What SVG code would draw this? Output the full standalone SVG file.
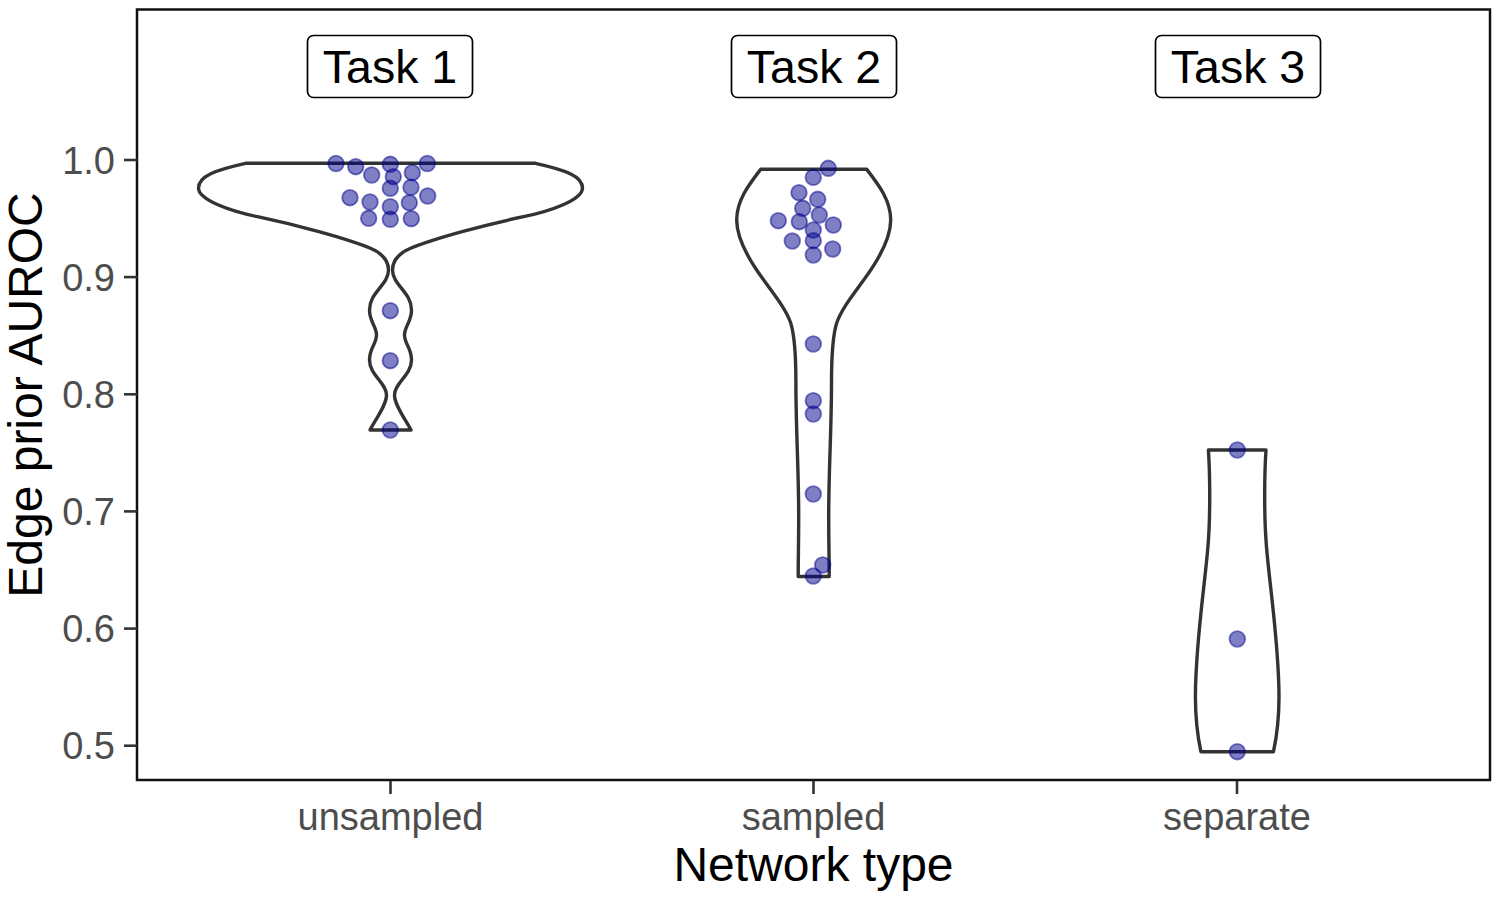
<svg xmlns="http://www.w3.org/2000/svg" width="1500" height="900" viewBox="0 0 1500 900">
<style>
  .violin { fill: #ffffff; stroke: #333333; stroke-width: 3.4; stroke-linejoin: round; }
  .pt { fill: #00008b; fill-opacity: 0.5; stroke: #00008b; stroke-opacity: 0.5; stroke-width: 1.8; }
  .tick { stroke: #333333; stroke-width: 2.6; }
  .ylab { font-family: "Liberation Sans", Arial, sans-serif; font-size: 38px; fill: #4d4d4d; text-anchor: end; }
  .xlab { font-family: "Liberation Sans", Arial, sans-serif; font-size: 38px; fill: #4d4d4d; text-anchor: middle; }
  .title { font-family: "Liberation Sans", Arial, sans-serif; font-size: 48px; fill: #000000; text-anchor: middle; }
  .tbox { fill: #ffffff; stroke: #000000; stroke-width: 1.7; }
  .ttext { font-family: "Liberation Sans", Arial, sans-serif; font-size: 46.5px; fill: #000000; text-anchor: middle; }
</style>
<rect x="0" y="0" width="1500" height="900" fill="#ffffff"/>

<g id="violin-unsampled">
  <path class="violin" d="M245.5,163.3 L535.5,163.3 C565.5,170 582.5,176 582.5,188 C582.5,200 550.5,211 523.5,216.7 C485.5,224.7 435.5,238 410.5,248.3 C398.5,253.5 392.5,260 392.5,270 C392.5,285 411.5,292 411.5,310 C411.5,322 404.5,326 404.5,335 C404.5,344 411.5,348 411.5,360 C411.5,375 394.5,383 394.5,395 C394.5,405 404.5,418 411,430 L370,430 C376.5,418 386.5,405 386.5,395 C386.5,383 369.5,375 369.5,360 C369.5,348 376.5,344 376.5,335 C376.5,326 369.5,322 369.5,310 C369.5,292 388.5,285 388.5,270 C388.5,260 382.5,253.5 370.5,248.3 C345.5,238 295.5,224.7 257.5,216.7 C230.5,211 198.5,200 198.5,188 C198.5,176 215.5,170 245.5,163.3 Z"/>
  <g>
    <circle class="pt" cx="336" cy="163.5" r="7.8"/>
    <circle class="pt" cx="355.7" cy="166.7" r="7.8"/>
    <circle class="pt" cx="371.7" cy="175" r="7.8"/>
    <circle class="pt" cx="390.3" cy="164.3" r="7.8"/>
    <circle class="pt" cx="393.3" cy="176.7" r="7.8"/>
    <circle class="pt" cx="412.3" cy="172.7" r="7.8"/>
    <circle class="pt" cx="427.3" cy="163.5" r="7.8"/>
    <circle class="pt" cx="390.3" cy="188.3" r="7.8"/>
    <circle class="pt" cx="411" cy="187.3" r="7.8"/>
    <circle class="pt" cx="427.7" cy="196" r="7.8"/>
    <circle class="pt" cx="350" cy="197.7" r="7.8"/>
    <circle class="pt" cx="370" cy="202" r="7.8"/>
    <circle class="pt" cx="390.3" cy="206.7" r="7.8"/>
    <circle class="pt" cx="409.3" cy="202.7" r="7.8"/>
    <circle class="pt" cx="368.7" cy="218.3" r="7.8"/>
    <circle class="pt" cx="390.3" cy="219.3" r="7.8"/>
    <circle class="pt" cx="411.3" cy="218.7" r="7.8"/>
    <circle class="pt" cx="390.3" cy="310.7" r="7.8"/>
    <circle class="pt" cx="390.3" cy="360.7" r="7.8"/>
    <circle class="pt" cx="390.3" cy="430" r="7.8"/>
  </g>
</g>

<g id="violin-sampled">
  <path class="violin" d="M760.7,169.3 L866.7,169.3 C878,184 890.7,200 890.7,220 C890.7,240 877,262 863.7,280 C852,296 841,310 836.7,323 C832.5,336 831.5,355 831.5,383 C831.5,430 828.7,470 828.7,516 C828.7,540 829.2,560 829.2,576.5 L798.2,576.5 C798.2,560 798.7,540 798.7,516 C798.7,470 795.9,430 795.9,383 C795.9,355 794.9,336 790.7,323 C786.4,310 775.4,296 763.7,280 C750.4,262 736.7,240 736.7,220 C736.7,200 749.4,184 760.7,169.3 Z"/>
  <g>
    <circle class="pt" cx="828.3" cy="168.3" r="7.8"/>
    <circle class="pt" cx="813.3" cy="177.3" r="7.8"/>
    <circle class="pt" cx="799" cy="192.7" r="7.8"/>
    <circle class="pt" cx="817.7" cy="199.3" r="7.8"/>
    <circle class="pt" cx="802.7" cy="208.3" r="7.8"/>
    <circle class="pt" cx="819.3" cy="215" r="7.8"/>
    <circle class="pt" cx="778.3" cy="220.7" r="7.8"/>
    <circle class="pt" cx="799.3" cy="221.7" r="7.8"/>
    <circle class="pt" cx="833.3" cy="225" r="7.8"/>
    <circle class="pt" cx="813.3" cy="230" r="7.8"/>
    <circle class="pt" cx="792.3" cy="241" r="7.8"/>
    <circle class="pt" cx="813.3" cy="240.7" r="7.8"/>
    <circle class="pt" cx="832.7" cy="249" r="7.8"/>
    <circle class="pt" cx="813.3" cy="255" r="7.8"/>
    <circle class="pt" cx="813.3" cy="344" r="7.8"/>
    <circle class="pt" cx="813.3" cy="400.7" r="7.8"/>
    <circle class="pt" cx="813.3" cy="414" r="7.8"/>
    <circle class="pt" cx="813.3" cy="494" r="7.8"/>
    <circle class="pt" cx="822.7" cy="565" r="7.8"/>
    <circle class="pt" cx="813.3" cy="576" r="7.8"/>
  </g>
</g>

<g id="violin-separate">
  <path class="violin" d="M1208.4,450 L1266,450 C1264,480 1264.5,520 1266,540 C1268,575 1279,640 1279,697 C1279,720 1276,740 1273.5,751.7 L1200.9,751.7 C1198.4,740 1195.4,720 1195.4,697 C1195.4,640 1206.4,575 1208.4,540 C1209.9,520 1210.4,480 1208.4,450 Z"/>
  <g>
    <circle class="pt" cx="1237.3" cy="450" r="7.8"/>
    <circle class="pt" cx="1237.3" cy="639" r="7.8"/>
    <circle class="pt" cx="1237.3" cy="751.7" r="7.8"/>
  </g>
</g>

<g id="label-task1">
  <rect class="tbox" x="307.5" y="35.5" width="165" height="62" rx="6" ry="6"/>
  <text class="ttext" x="390" y="83">Task 1</text>
</g>
<g id="label-task2">
  <rect class="tbox" x="731.5" y="35.5" width="165" height="62" rx="6" ry="6"/>
  <text class="ttext" x="814" y="83">Task 2</text>
</g>
<g id="label-task3">
  <rect class="tbox" x="1155.5" y="35.5" width="165" height="62" rx="6" ry="6"/>
  <text class="ttext" x="1238" y="83">Task 3</text>
</g>

<g id="axes">
  <rect x="137" y="9.5" width="1353" height="770.5" fill="none" stroke="#111111" stroke-width="2.5"/>
  <g id="y-ticks">
    <line class="tick" x1="124" y1="160" x2="137" y2="160"/>
    <line class="tick" x1="124" y1="277.1" x2="137" y2="277.1"/>
    <line class="tick" x1="124" y1="394.3" x2="137" y2="394.3"/>
    <line class="tick" x1="124" y1="511.4" x2="137" y2="511.4"/>
    <line class="tick" x1="124" y1="628.6" x2="137" y2="628.6"/>
    <line class="tick" x1="124" y1="745.7" x2="137" y2="745.7"/>
    <text class="ylab" x="115" y="173.5">1.0</text>
    <text class="ylab" x="115" y="290.6">0.9</text>
    <text class="ylab" x="115" y="407.8">0.8</text>
    <text class="ylab" x="115" y="524.9">0.7</text>
    <text class="ylab" x="115" y="642.1">0.6</text>
    <text class="ylab" x="115" y="759.2">0.5</text>
  </g>
  <g id="x-ticks">
    <line class="tick" x1="390.5" y1="781" x2="390.5" y2="794"/>
    <line class="tick" x1="813.5" y1="781" x2="813.5" y2="794"/>
    <line class="tick" x1="1237" y1="781" x2="1237" y2="794"/>
    <text class="xlab" x="390.5" y="829.5">unsampled</text>
    <text class="xlab" x="813.5" y="829.5">sampled</text>
    <text class="xlab" x="1237" y="829.5">separate</text>
  </g>
  <text class="title" x="813.5" y="881">Network type</text>
  <text class="title" transform="translate(42,395) rotate(-90)" x="0" y="0">Edge prior AUROC</text>
</g>
</svg>
